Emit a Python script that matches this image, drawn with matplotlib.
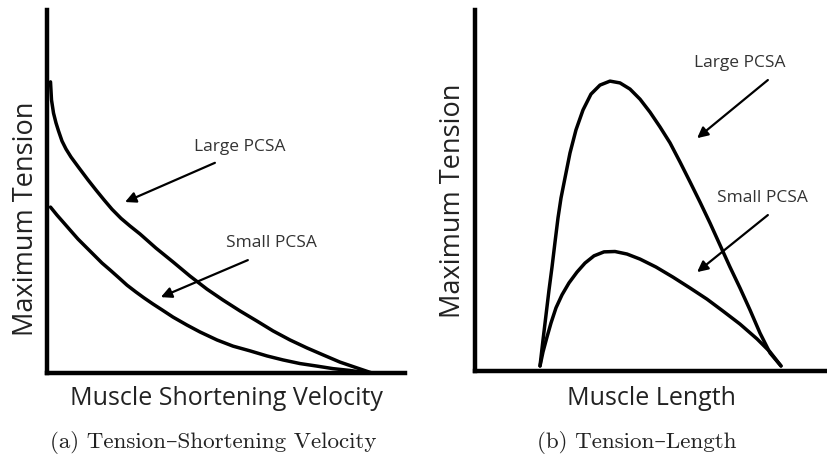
import matplotlib
matplotlib.use('Agg')
import matplotlib.pyplot as plt

# --- (a) tension vs shortening velocity ---
vel_large = [0.98, 1.26, 1.82, 2.51, 3.21, 4.19, 5.31, 6.70, 8.94, 11.45, 13.69, 15.92, 18.16,
             20.67, 23.18, 25.98, 30.45, 35.20, 39.94, 44.69, 49.16, 53.91, 58.66, 63.13,
             67.88, 72.63, 77.09, 81.84, 86.59, 90.78]
ten_large = [80.2, 75.2, 71.6, 68.9, 66.7, 63.9, 61.7, 59.5, 56.5, 53.2, 50.4, 47.7, 45.1,
             42.6, 40.5, 38.3, 34.4, 30.6, 26.7, 23.1, 20.1, 17.1, 14.3, 11.6,
             9.1, 6.9, 5.0, 3.0, 1.4, 0.0]
vel_small = [0.98, 2.79, 4.75, 6.70, 8.66, 10.89, 13.13, 15.36, 17.60, 20.11, 22.35, 24.86,
             27.09, 29.61, 32.12, 35.20, 39.11, 42.74, 47.49, 51.96, 56.70, 61.45, 65.92,
             70.67, 75.42, 79.89, 84.64, 89.11]
ten_small = [45.7, 43.5, 41.3, 39.1, 36.9, 34.7, 32.5, 30.3, 28.4, 26.2, 24.2, 22.3,
             20.7, 19.0, 17.4, 15.4, 13.2, 11.3, 9.1, 7.4, 6.1, 4.7, 3.6,
             2.6, 1.9, 1.2, 0.7, 0.1]

# --- (b) tension vs muscle length ---
len_large = [18.47, 19.32, 20.17, 21.02, 21.88, 22.73, 23.58, 24.43, 25.57, 26.99, 28.69,
             30.68, 32.95, 35.51, 38.35, 41.19, 44.03, 46.88, 49.72, 52.56, 55.40, 58.24,
             61.08, 63.92, 66.76, 69.60, 72.44, 75.28, 78.13, 80.97, 83.81, 86.93]
tl_large = [1.4, 8.6, 15.5, 22.4, 28.8, 35.7, 42.4, 47.9, 53.5, 60.4, 66.8,
            72.3, 76.7, 79.2, 80.3, 79.8, 78.1, 75.3, 71.7, 67.6, 63.2, 57.9,
            52.4, 46.8, 41.0, 34.9, 28.8, 23.0, 16.9, 10.5, 5.0, 1.4]
len_small = [18.47, 19.32, 20.45, 21.59, 23.01, 24.72, 26.70, 28.98, 31.25, 33.81, 36.65,
             39.77, 43.18, 46.88, 51.42, 56.25, 61.08, 65.91, 70.45, 75.28, 80.11, 83.81, 86.93]
tl_small = [1.4, 5.3, 9.4, 13.3, 17.5, 21.1, 24.4, 27.4, 29.9, 31.9, 33.0,
            33.1, 32.4, 31.0, 28.8, 26.0, 23.0, 19.9, 16.6, 13.0, 8.9, 5.3, 1.4]

SANS = 'Open Sans'
CAPTION = ['cmr10', 'DejaVu Serif']
W, H = 827, 454


def frame(left, right, bottom, top):
    # axes placed by pixel edges
    ax = fig.add_axes([left / W, (H - bottom) / H, (right - left) / W, (bottom - top) / H])
    ax.set_xlim(0, 100)
    ax.set_ylim(0, 100)
    for s in ('top', 'right'):
        ax.spines[s].set_visible(False)
    for s in ('left', 'bottom'):
        ax.spines[s].set_linewidth(3.2)
        ax.spines[s].set_capstyle('projecting')
    ax.set_xticks([])
    ax.set_yticks([])
    ax.patch.set_alpha(0)
    return ax


def curve(ax, x, y):
    ax.plot(x, y, color='black', lw=2.5, solid_capstyle='round',
            solid_joinstyle='round', clip_on=False)


def arrow(ax, tail, tip):
    ax.annotate('', xy=tip, xytext=tail,
                arrowprops=dict(arrowstyle='-|>', lw=1.6, color='black',
                                mutation_scale=16, shrinkA=0, shrinkB=0))


def note(ax, x, y, s):
    ax.text(x, y, s, fontsize=12.5, family=SANS, color='#333333', ha='center', va='center')


fig = plt.figure(figsize=(8.27, 4.54), dpi=100)

ax1 = frame(47, 405, 373, 10)
curve(ax1, vel_large, ten_large)
curve(ax1, vel_small, ten_small)
note(ax1, 53.9, 62.3, 'Large PCSA')
note(ax1, 62.8, 35.8, 'Small PCSA')
arrow(ax1, (46.9, 57.9), (21.8, 47.1))
arrow(ax1, (56.1, 31.1), (31.8, 20.9))
ax1.set_xlabel('Muscle Shortening Velocity', fontsize=18, family=SANS, color='#222222', labelpad=9.5)
ax1.set_ylabel('Maximum Tension', fontsize=19.5, family=SANS, color='#222222', labelpad=5, y=0.426)

ax2 = frame(475, 827, 371, 10)
curve(ax2, len_large, tl_large)
curve(ax2, len_small, tl_small)
note(ax2, 75.3, 85.3, 'Large PCSA')
note(ax2, 81.8, 47.9, 'Small PCSA')
arrow(ax2, (83.2, 80.6), (63.1, 64.5))
arrow(ax2, (83.2, 43.2), (63.1, 27.4))
ax2.set_xlabel('Muscle Length', fontsize=18, family=SANS, color='#222222', labelpad=11)
ax2.set_ylabel('Maximum Tension', fontsize=19.5, family=SANS, color='#222222', labelpad=5.5, y=0.471)

# sub-figure captions
fig.text(213 / W, (H - 443) / H, '(a) Tension–Shortening Velocity', fontsize=16.6,
         family=CAPTION, ha='center', va='center', color='#222222')
fig.text(637 / W, (H - 443) / H, '(b) Tension–Length', fontsize=16.6,
         family=CAPTION, ha='center', va='center', color='#222222')

fig.savefig('out.png', dpi=100, facecolor='white')
plt.close(fig)
